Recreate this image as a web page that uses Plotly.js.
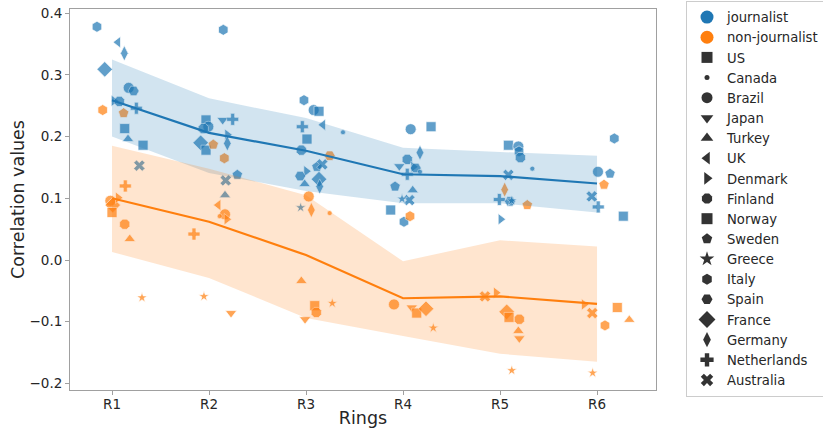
<!DOCTYPE html>
<html>
<head>
<meta charset="utf-8">
<script src="https://cdn.plot.ly/plotly-3.0.1.min.js"></script>
<style>html,body{margin:0;padding:0;background:#fff;}#chart{width:823px;height:429px;}</style>
</head>
<body>
<div id="chart"></div>
<script>
// ---- data ----
const rings = ["R1", "R2", "R3", "R4", "R5", "R6"];
const countries = ["US", "Canada", "Brazil", "Japan", "Turkey", "UK", "Denmark", "Finland", "Norway", "Sweden", "Greece", "Italy", "Spain", "France", "Germany", "Netherlands", "Australia"];

// mean lines and confidence bands per ring
const jourMean = [0.259, 0.206, 0.177, 0.139, 0.136, 0.124];
const jourUpper = [0.325, 0.262, 0.230, 0.182, 0.175, 0.169];
const jourLower = [0.200, 0.141, 0.112, 0.092, 0.092, 0.077];
const nonMean = [0.100, 0.062, 0.008, -0.062, -0.059, -0.071];
const nonUpper = [0.185, 0.148, 0.105, -0.002, 0.032, 0.022];
const nonLower = [0.013, -0.029, -0.094, -0.123, -0.152, -0.165];

// journalist points: country, position on ring axis, value
const jourCountry = [
  "Italy","UK","Germany","France","Brazil","Spain","Denmark","Finland","Netherlands","Norway","Turkey","US","Australia",
  "Italy","US","Brazil","Finland","Japan","Netherlands","France","Norway","Denmark","Germany","Sweden","Australia","Turkey",
  "Italy","Brazil","US","Netherlands","UK","Canada","Norway","Finland","Denmark","Spain","Turkey","Sweden","Australia","France","Germany","Greece",
  "Brazil","US","Germany","Finland","Japan","Denmark","Spain","Netherlands","Canada","Sweden","Turkey","Australia","Greece","Norway","Italy",
  "US","Brazil","Italy","Finland","Canada","Australia","Netherlands","Spain","Greece","Denmark",
  "Italy","Brazil","Sweden","Australia","Netherlands","Norway"
];
const jourX = [
  -0.155, 0.062, 0.127, -0.075, 0.172, 0.223, 0.018, 0.076, 0.251, 0.131, 0.165, 0.320, 0.282,
  1.147, 0.969, 0.993, 0.941, 1.141, 1.244, 0.914, 0.969, 1.189, 1.189, 1.292, 1.172, 1.165,
  1.979, 2.079, 2.134, 1.962, 2.175, 2.381, 2.010, 1.952, 2.003, 1.940, 1.986, 2.113, 2.168, 2.134, 2.141, 1.945,
  3.079, 3.289, 3.175, 3.044, 2.962, 3.106, 3.131, 3.044, 3.175, 2.918, 3.100, 3.065, 2.990, 2.873, 3.010,
  4.086, 4.189, 4.196, 4.210, 4.333, 4.086, 3.993, 4.103, 4.120, 4.007,
  5.178, 5.010, 5.134, 4.946, 5.013, 5.271
];
const jourY = [
  0.378, 0.353, 0.335, 0.309, 0.279, 0.274, 0.258, 0.257, 0.246, 0.213, 0.196, 0.186, 0.153,
  0.373, 0.227, 0.216, 0.213, 0.227, 0.228, 0.190, 0.178, 0.203, 0.189, 0.138, 0.129, 0.105,
  0.259, 0.243, 0.241, 0.216, 0.219, 0.207, 0.196, 0.178, 0.144, 0.136, 0.123, 0.151, 0.155, 0.131, 0.119, 0.085,
  0.212, 0.216, 0.174, 0.163, 0.152, 0.151, 0.149, 0.139, 0.143, 0.119, 0.113, 0.097, 0.099, 0.081, 0.062,
  0.186, 0.184, 0.176, 0.166, 0.148, 0.138, 0.098, 0.095, 0.096, 0.066,
  0.197, 0.143, 0.140, 0.103, 0.086, 0.071
];

// non-journalist points
const nonCountry = [
  "Italy","Sweden","Netherlands","Brazil","France","Denmark","US","Finland","Turkey","Greece",
  "Sweden","Italy","UK","Brazil","Denmark","Canada","Netherlands","Greece","Japan",
  "Spain","Brazil","Germany","Canada","Turkey","Norway","Greece","Finland","Japan",
  "Italy","Brazil","Japan","US","France","Greece",
  "Germany","Sweden","Australia","Denmark","France","Norway","Finland","Turkey","Japan","Greece",
  "Sweden","Denmark","Australia","Norway","Italy","Turkey","Greece"
];
const nonX = [
  -0.096, 0.120, 0.137, -0.017, 0.007, 0.062, 0.000, 0.131, 0.183, 0.309,
  1.044, 1.158, 1.096, 1.165, 1.182, 1.110, 0.845, 0.948, 1.227,
  2.244, 2.028, 2.055, 2.244, 1.952, 2.090, 2.271, 2.106, 1.990,
  3.072, 2.907, 3.090, 3.141, 3.237, 3.312,
  4.048, 4.281, 3.845, 3.959, 4.069, 4.093, 4.199, 4.189, 4.199, 4.121,
  5.072, 4.866, 4.951, 5.209, 5.082, 5.333, 4.955
];
const nonY = [
  0.243, 0.238, 0.120, 0.096, 0.089, 0.101, 0.077, 0.058, 0.034, -0.061,
  0.187, 0.165, 0.089, 0.074, 0.066, 0.071, 0.042, -0.059, -0.086,
  0.169, 0.103, 0.081, 0.076, -0.034, -0.074, -0.070, -0.085, -0.096,
  0.071, -0.072, -0.077, -0.086, -0.079, -0.110,
  0.114, 0.089, -0.059, -0.053, -0.084, -0.093, -0.096, -0.115, -0.127, -0.179,
  0.122, -0.072, -0.086, -0.077, -0.106, -0.097, -0.183
];

// ---- styles ----
const BLUE = "#1f77b4", ORANGE = "#ff7f0e";
const symbolOf = {US:"square", Canada:"circle", Brazil:"circle", Japan:"triangle-down", Turkey:"triangle-up",
  UK:"triangle-left", Denmark:"triangle-right", Finland:"octagon", Norway:"square", Sweden:"pentagon",
  Greece:"star", Italy:"hexagon", Spain:"hexagon2", France:"diamond", Germany:"diamond-tall",
  Netherlands:"cross", Australia:"x"};
const sizeOf = {US:10, Canada:5, Brazil:11, Japan:10, Turkey:10, UK:10, Denmark:10, Finland:11, Norway:10,
  Sweden:11, Greece:8, Italy:11, Spain:11, France:12, Germany:11, Netherlands:10, Australia:10};

const idx = rings.map((_, i) => i);
function pointsTrace(cs, xs, ys, color) {
  return {
    type: "scatter", mode: "markers", x: xs, y: ys, showlegend: false, hoverinfo: "skip",
    marker: {color: color, symbol: cs.map(c => symbolOf[c]), size: cs.map(c => sizeOf[c]),
      line: {color: "#ffffff", width: 0.7}}
  };
}
function bandTrace(up, lo, color) {
  return {
    type: "scatter", mode: "lines", x: idx.concat(idx.slice().reverse()),
    y: up.concat(lo.slice().reverse()), fill: "toself", fillcolor: color,
    line: {width: 0}, showlegend: false, hoverinfo: "skip"
  };
}
function meanTrace(m, color) {
  return {type: "scatter", mode: "lines", x: idx, y: m, line: {color: color, width: 2.2},
    showlegend: false, hoverinfo: "skip"};
}

const traces = [
  pointsTrace(jourCountry, jourX, jourY, BLUE),
  pointsTrace(nonCountry, nonX, nonY, ORANGE),
  bandTrace(jourUpper, jourLower, "rgba(31,119,180,0.2)"),
  bandTrace(nonUpper, nonLower, "rgba(255,127,14,0.2)"),
  meanTrace(jourMean, BLUE),
  meanTrace(nonMean, ORANGE)
];

// legend entries
const legendEntries = [["journalist", "circle", BLUE, 13], ["non-journalist", "circle", ORANGE, 13]]
  .concat(countries.map(c => [c, symbolOf[c], "#333333", c === "Canada" ? 5 : (c === "France" ? 13 : 11)]));
legendEntries.forEach((e, i) => {
  traces.push({type: "scatter", mode: "markers", x: [null], y: [null], name: e[0],
    marker: {symbol: e[1], color: e[2], size: e[3]}, hoverinfo: "skip"});
});

const FONT = "DejaVu Sans";
const layout = {
  width: 823, height: 429,
  margin: {l: 70, r: 167, t: 9, b: 39, autoexpand: false},
  paper_bgcolor: "#ffffff", plot_bgcolor: "#ffffff",
  font: {family: FONT, size: 13, color: "#262626"},
  xaxis: {
    range: [-0.433, 5.608], tickmode: "array", tickvals: idx, ticktext: rings,
    showgrid: false, zeroline: false, showline: true, mirror: true, linecolor: "#a0a0a0", linewidth: 1,
    ticks: "outside", ticklen: 4, tickcolor: "#a0a0a0", tickfont: {size: 13.5}, ticklabelstandoff: -2,
    title: {text: "Rings", font: {size: 17.5}, standoff: 0}
  },
  yaxis: {
    range: [-0.2107, 0.4068], dtick: 0.1, tick0: 0, tickformat: ".1f",
    showgrid: false, zeroline: false, showline: true, mirror: true, linecolor: "#a0a0a0", linewidth: 1,
    ticks: "outside", ticklen: 4, tickcolor: "#a0a0a0", tickfont: {size: 13.5},
    title: {text: "Correlation values", font: {size: 17.5}, standoff: 0}
  },
  legend: {
    x: 1.0512, xanchor: "left", y: 1.021, yanchor: "top", maxheight: 428,
    bordercolor: "#cccccc", borderwidth: 1, bgcolor: "#ffffff",
    font: {size: 13.2, color: "#262626"}, itemwidth: 30
  }
};

Plotly.newPlot("chart", traces, layout, {displayModeBar: false, staticPlot: true});
</script>
</body>
</html>
